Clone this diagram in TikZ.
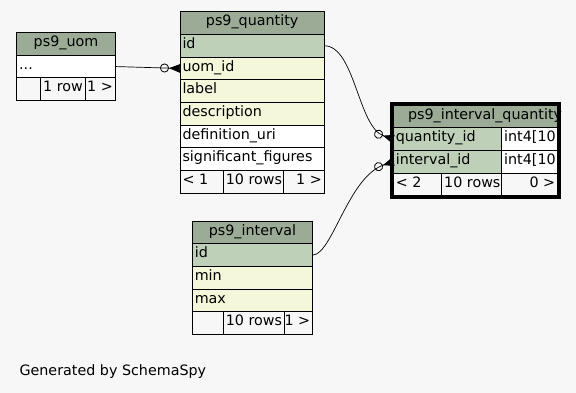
\documentclass[tikz,border=0pt]{standalone}
\usepackage{fontspec}
\setmainfont{DejaVu Sans}
\usepackage{tikz}
\usetikzlibrary{arrows.meta,positioning,fit}
\definecolor{pagebg}{HTML}{F7F7F7}
\definecolor{headgreen}{HTML}{9BAB96}
\definecolor{keygreen}{HTML}{BED1B8}
\definecolor{idxyellow}{HTML}{F4F7DA}
\tikzset{every node/.append style={font=\fontsize{14.3}{16}\selectfont}}
\tikzset{
  box/.style={draw=black,line width=.8pt,inner xsep=2.5pt,inner ysep=0pt,outer sep=0pt,
    minimum height=22.7pt,text height=9.5pt,text depth=4pt},
  cell/.style={box,execute at begin node={\hbox to #1\bgroup},execute at end node={\hss\egroup}},
  rcell/.style={box,execute at begin node={\hbox to #1\bgroup\hss},execute at end node={\egroup}},
  hdr/.style={box,fill=headgreen,execute at begin node={\hbox to #1\bgroup\hss},execute at end node={\hss\egroup}},
  frame/.style={draw=black,line width=3pt,inner sep=1.6pt},
  link/.style={line width=.7pt,-{Circle[open,length=9pt,width=9pt,line width=.8pt] Triangle[reversed,length=11pt,width=8.5pt]}}
}

\begin{document}
\begin{tikzpicture}[x=1pt,y=-1pt]
\fill[pagebg] (0,0) rectangle (576,393);
\useasboundingbox (0,0) rectangle (576,393);
% ps9_uom
\node[hdr=93.6pt,anchor=north west] (uom) at (16.7,32.5) {ps9\_uom};
\node[cell=93.6pt,fill=white,below=0pt of uom] (uom-dots) {...};
\node[cell=19pt,below right=0pt of uom-dots.south west] (uom-f1) {};
\node[cell=40pt,right=0pt of uom-f1] (uom-f2) {1 row};
\node[rcell=24.6pt,right=0pt of uom-f2] (uom-f3) {1 >};
% ps9_quantity
\node[hdr=139.3pt,anchor=north west] (q) at (180,11.7) {ps9\_quantity};
\node[cell=139.3pt,fill=keygreen,below=0pt of q] (q-id) {id};
\node[cell=139.3pt,fill=idxyellow,below=0pt of q-id] (q-uomid) {uom\_id};
\node[cell=139.3pt,fill=idxyellow,below=0pt of q-uomid] (q-label) {label};
\node[cell=139.3pt,fill=idxyellow,below=0pt of q-label] (q-desc) {description};
\node[cell=139.3pt,fill=white,below=0pt of q-desc] (q-uri) {definition\_uri};
\node[cell=139.3pt,fill=white,below=0pt of q-uri] (q-sig) {significant\_figures};
\node[cell=38.3pt,below right=0pt of q-sig.south west] (q-f1) {< 1};
\node[cell=55pt,right=0pt of q-f1] (q-f2) {10 rows};
\node[rcell=36pt,right=0pt of q-f2] (q-f3) {1 >};
% ps9_interval
\node[hdr=115.4pt,anchor=north west] (i) at (192.3,221) {ps9\_interval};
\node[cell=115.4pt,fill=keygreen,below=0pt of i] (i-id) {id};
\node[cell=115.4pt,fill=idxyellow,below=0pt of i-id] (i-min) {min};
\node[cell=115.4pt,fill=idxyellow,below=0pt of i-min] (i-max) {max};
\node[cell=26pt,below right=0pt of i-max.south west] (i-f1) {};
\node[cell=55.7pt,right=0pt of i-f1] (i-f2) {10 rows};
\node[rcell=23.7pt,right=0pt of i-f2] (i-f3) {1 >};
% ps9_interval_quantity
\node[cell=135pt,fill=headgreen,inner xsep=14.7pt,anchor=north west] (iq) at (393.3,105) {ps9\_interval\_quantity};
\node[cell=103.4pt,fill=keygreen,below right=0pt of iq.south west] (iq-qid) {quantity\_id};
\node[cell=51pt,fill=white,right=0pt of iq-qid] (iq-qtype) {int4[10};
\node[cell=103.4pt,fill=keygreen,below=0pt of iq-qid] (iq-iid) {interval\_id};
\node[cell=51pt,fill=white,right=0pt of iq-iid] (iq-itype) {int4[10};
\node[cell=43.4pt,below right=0pt of iq-iid.south west] (iq-f1) {< 2};
\node[cell=55pt,right=0pt of iq-f1] (iq-f2) {10 rows};
\node[rcell=51pt,right=0pt of iq-f2] (iq-f3) {0 >};
\node[frame,fit=(iq)(iq-f3)] (iq-frame) {};
% relations
\draw[link] (uom-dots.east) -- (q-uomid.west);
\draw[link] (q-id.east) .. controls (355,46) and (358,127.5) .. (iq-qid.west);
\draw[link] (i-id.east) .. controls (332,255) and (348.3,176.7) .. (iq-iid.west);
\node[anchor=base west] (credit) at (16,375.7) {Generated by SchemaSpy};
\end{tikzpicture}
\end{document}
